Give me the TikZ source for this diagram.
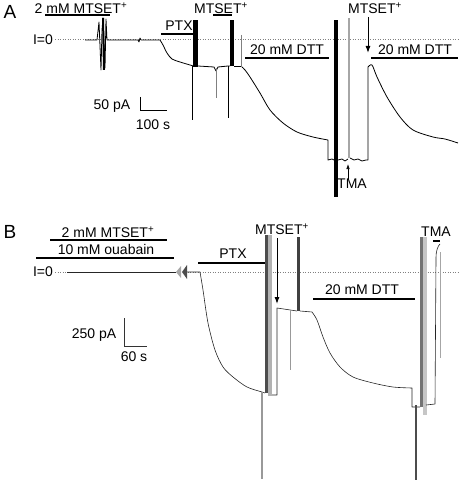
\documentclass[tikz,border=0pt]{standalone}
\usepackage{fontspec}
\setmainfont{Liberation Sans}
\usetikzlibrary{arrows.meta}
\begin{document}
\begin{tikzpicture}[x=1pt,y=-1pt,
  lbl/.style={inner sep=0pt,font=\fontsize{14}{16}\selectfont},
  panel/.style={inner sep=0pt,font=\fontsize{19}{21}\selectfont},
  bar/.style={line width=1.3pt},
  zero/.style={gray,dotted,line width=0.5pt},
  trA/.style={black,line width=0.8pt,line join=round},
  trB/.style={black!85,line width=0.6pt,line join=round},
  arr/.style={line width=1pt,-{Latex[length=7pt,width=5pt]}},
  sarr/.style={line width=0.7pt,-{Latex[length=5pt,width=3.5pt]}}]
\useasboundingbox (0,0) rectangle (458,481);
% ---------------- Panel A ----------------
\node[panel] (pA) at (10,12) {A};
\node[lbl] (mtA1) at (81,8) {2 mM MTSET\textsuperscript{+}};
\draw[bar] (45,15) -- (110,15);
\node[lbl] (zA) at (43,40) {I=0};
\draw[zero] (55,39) -- (458,39);
\node[lbl] (ptxA) at (179,26) {PTX};
\draw[bar] (161,34) -- (193,34);
\node[lbl] (mtA2) at (221,8) {MTSET\textsuperscript{+}};
\draw[bar] (213,15) -- (232,15);
\node[lbl] (dttA1) at (287,50) {20 mM DTT};
\draw[bar] (245,58) -- (329,58);
\node[lbl] (mtA3) at (375,8) {MTSET\textsuperscript{+}};
\node[lbl] (dttA2) at (415,50) {20 mM DTT};
\draw[bar] (371,58) -- (458,58);
\node[lbl] (tmaA) at (352,184) {TMA};
\coordinate (mtA3end) at (368,53);
\coordinate (mtA3start) at (368,17);
\draw[arr] (mtA3start) -- (mtA3end);
\coordinate (tmaAend) at (348,164);
\draw[sarr] (tmaA.north -| tmaAend) -- (tmaAend);
% scale bar A
\node[lbl] (sA1) at (112,106) {50 pA};
\node[lbl] (sA2) at (153,125) {100 s};
\draw[line width=0.6pt] (140,97) -- (140,110) -- (167,110);
% trace A
\draw[trA] (85,40) -- (97,40) -- (99,22) -- (101,70) -- (102,30) -- (103,18) -- (105,68) -- (106,19) -- (107,40) -- (138,40) -- (139,42) -- (140,38) -- (141,40) -- (160,40)
  plot[smooth] coordinates {(160,40) (163,45) (167,53) (172,59) (180,62) (190,65) (193,66)};
\fill[black] (102,18) -- (104,18) -- (105,70) -- (103,70) -- cycle;
\fill[black] (193,20) rectangle (198,67);
\draw[trA] (192,66) -- (192,120);
\draw[trA] (198,66) -- (214,67) -- (216,71) -- (218,67) -- (228,66) -- (230,66);
\draw[gray,line width=0.6pt] (216,68) -- (216,98);
\draw[trA] (228,66) -- (228,118);
\fill[black] (230,20) rectangle (234,66);
\draw[trA] (234,66) -- (241,66);
\draw[gray,line width=0.7pt] (241,35) -- (241,67);
\draw[trA] plot[smooth] coordinates {(242,67) (245,70) (250,77) (260,93) (270,110) (283,123) (297,132) (313,137) (328,140)}
  -- (328,160) -- (332,159) -- (334,160);
\fill[black] (334,20) rectangle (338,197);
\draw[trA] (338,160) -- (342,159) -- (345,161) -- (348,159);
\draw[gray!70,line width=2pt] (349,18) -- (349,158);
\draw[trA] (350,158) -- (354,160) -- (358,159) -- (362,161) -- (366,160) -- (368,160) -- (368,67)
  plot[smooth] coordinates {(368,67) (372,65) (377,77) (387,97) (400,117) (413,130) (433,137) (445,139) (458,143)};
% ---------------- Panel B ----------------
\node[panel] (pB) at (10,232) {B};
\node[lbl] (mtB1) at (108,232) {2 mM MTSET\textsuperscript{+}};
\draw[bar] (50,240) -- (167,240);
\node[lbl] (ouB) at (106,249) {10 mM ouabain};
\draw[bar] (36,258) -- (174,258);
\node[lbl] (zB) at (43,272) {I=0};
\draw[zero] (55,272) -- (458,272);
\node[lbl] (ptxB) at (233,254) {PTX};
\draw[bar] (198,263) -- (265,263);
\node[lbl] (mtB2) at (282,229) {MTSET\textsuperscript{+}};
\coordinate (mtB2start) at (277,238);
\coordinate (mtB2end) at (277,304);
\draw[arr] (mtB2start) -- (mtB2end);
\node[lbl] (dttB) at (362,290) {20 mM DTT};
\draw[bar] (313,299) -- (415,299);
\node[lbl] (tmaB) at (436,232) {TMA};
\draw[bar] (433,241) -- (440,241);
% scale bar B
\node[lbl] (sB1) at (94,335) {250 pA};
\node[lbl] (sB2) at (134,357) {60 s};
\draw[line width=0.6pt,black!80] (124,318) -- (124,346) -- (147,346);
% trace B
\draw[trB] (67,272) -- (176,272);
\fill[gray!70] (176,272) -- (181,266) -- (181,278) -- cycle;
\fill[black!70] (182,272) -- (187,265) -- (187,279) -- cycle;
\draw[trB] (187,272) -- (200,272)
  plot[smooth] coordinates {(200,272) (203,290) (208,323) (215,350) (223,367) (233,377) (247,387) (262,392) (265,393)};
\draw[gray!80,line width=1.6pt] (262,392) -- (262,479);
\fill[black!70] (265,235) rectangle (268,393);
\fill[gray!60] (268,235) rectangle (272,396);
\draw[trB] (272,395) -- (277,395) -- (277,308) -- (297,311);
\draw[gray!80,line width=0.8pt] (290,310) -- (290,370);
\fill[black!75] (297,237) rectangle (300,311);
\draw[trB] (300,311) -- (312,312)
  plot[smooth] coordinates {(312,312) (317,320) (323,337) (330,353) (340,367) (353,377) (373,383) (393,387) (412,388)}
  -- (412,407) -- (420,407);
\draw[black!70,line width=1.6pt] (416,405) -- (416,480);
\fill[black!55] (420,237) rectangle (423,407);
\fill[gray!45] (423,237) rectangle (427,415);
\draw[trB] (426,405) -- (435,404) -- (436,258) .. controls (436,250) and (438,246) .. (440,244);
\draw[gray!70,line width=0.6pt] (440,252) -- (440,358);
\end{tikzpicture}
\end{document}
